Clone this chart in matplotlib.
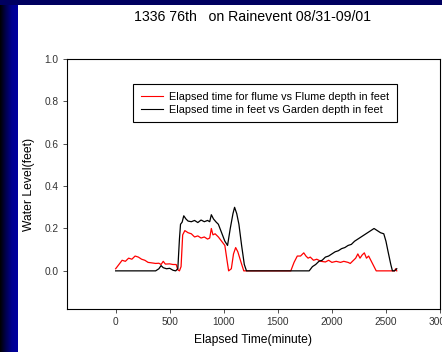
import numpy as np
import matplotlib.pyplot as plt
from matplotlib.colors import LinearSegmentedColormap

plt.rcParams['font.family'] = ['Liberation Sans', 'DejaVu Sans']

# flume depth (red)
flume_t = [0, 30, 60, 90, 120, 150, 180, 210, 240, 270, 300, 330, 370, 400, 420, 440, 460,
           500, 530, 560, 575, 590, 605, 620, 640, 670, 700, 730, 760, 790, 820, 850, 870,
           885, 900, 920, 950, 980, 1010, 1030, 1045, 1070, 1090, 1110, 1130, 1160, 1185,
           1620, 1650, 1680, 1710, 1740, 1760, 1780, 1800, 1830, 1860, 1900, 1940, 1970,
           2000, 2040, 2080, 2110, 2150, 2170, 2200, 2220, 2240, 2260, 2280, 2300, 2320,
           2340, 2360, 2390, 2410, 2580, 2590, 2600]
flume_v = [0.01, 0.03, 0.05, 0.045, 0.06, 0.055, 0.07, 0.065, 0.055, 0.05, 0.04, 0.038, 0.035,
           0.036, 0.03, 0.045, 0.032, 0.033, 0.03, 0.03, 0.005, 0.0, 0.02, 0.17, 0.19, 0.18,
           0.175, 0.16, 0.165, 0.155, 0.16, 0.15, 0.155, 0.2, 0.17, 0.175, 0.16, 0.14, 0.12,
           0.05, 0.0, 0.01, 0.08, 0.11, 0.09, 0.04, 0.0,
           0.0, 0.04, 0.07, 0.07, 0.085, 0.07, 0.06, 0.065, 0.05, 0.055, 0.045, 0.042, 0.05,
           0.04, 0.045, 0.04, 0.045, 0.04, 0.035, 0.05, 0.06, 0.08, 0.06, 0.075, 0.085, 0.06,
           0.07, 0.05, 0.02, 0.0, 0.0, 0.01, 0.0]

# garden depth (black)
garden_t = [0, 370, 400, 420, 440, 470, 500, 530, 555, 575, 590, 600, 615, 630, 650, 670, 700,
            730, 760, 790, 820, 850, 870, 885, 905, 930, 950, 980, 1010, 1035, 1060, 1085,
            1100, 1120, 1140, 1165, 1190, 1210, 1790, 1820, 1850, 1880, 1910, 1940, 1970,
            2000, 2030, 2060, 2090, 2120, 2150, 2180, 2210, 2240, 2270, 2300, 2330, 2360,
            2390, 2420, 2450, 2480, 2500, 2520, 2545, 2560, 2580, 2600]
garden_v = [0.0, 0.0, 0.01, 0.025, 0.015, 0.01, 0.012, 0.003, 0.0, 0.01, 0.15, 0.22, 0.23,
            0.26, 0.245, 0.235, 0.232, 0.238, 0.228, 0.24, 0.232, 0.238, 0.232, 0.265, 0.245,
            0.23, 0.22, 0.18, 0.14, 0.12, 0.2, 0.27, 0.3, 0.27, 0.22, 0.12, 0.03, 0.0, 0.0,
            0.02, 0.03, 0.045, 0.05, 0.065, 0.07, 0.08, 0.09, 0.095, 0.105, 0.11, 0.12, 0.125,
            0.14, 0.15, 0.16, 0.17, 0.18, 0.19, 0.2, 0.19, 0.18, 0.175, 0.14, 0.09, 0.03, 0.0,
            0.0, 0.01]

W, H = 442, 352
fig = plt.figure(figsize=(W / 100, H / 100), dpi=100)
fig.patch.set_facecolor('white')

# dark frame on the left and top
band = fig.add_axes([0, 0, 18 / W, 1])
grad = np.linspace(0, 1, 64).reshape(1, -1)
cmap = LinearSegmentedColormap.from_list('b', ['#000000', '#000050', '#000090', '#0000a0'])
band.imshow(grad, aspect='auto', cmap=cmap, extent=[0, 1, 0, 1])
band.axis('off')
top = fig.add_axes([0, 1 - 5 / H, 1, 5 / H])
top.set_facecolor('#000060')
top.set_xticks([]); top.set_yticks([])
for s in top.spines.values():
    s.set_visible(False)

ax = fig.add_axes([67 / W, 1 - 309 / H, (440 - 67) / W, (309 - 59) / H])
ax.plot(flume_t, flume_v, color='red', lw=0.9,
        label='Elapsed time for flume vs Flume depth in feet')
ax.plot(garden_t, garden_v, color='black', lw=0.9,
        label='Elapsed time in feet vs Garden depth in feet')
ax.set_xlim(-450, 3000)
ax.set_ylim(-0.18, 1.0)
ax.set_xticks([0, 500, 1000, 1500, 2000, 2500, 3000])
ax.set_yticks([0.0, 0.2, 0.4, 0.6, 0.8, 1.0])
ax.set_yticklabels(['0.0', '0.2', '0.4', '0.6', '0.8', '1.0'])
ax.tick_params(labelsize=7.3, length=3, width=0.6, colors='#333333', pad=3)
for s in ax.spines.values():
    s.set_linewidth(0.8)
ax.set_xlabel('Elapsed Time(minute)', fontsize=8.7, labelpad=5)
ax.set_ylabel('Water Level(feet)', fontsize=8.7, labelpad=7)

leg = ax.legend(loc='upper left', bbox_to_anchor=(133 / W, 1 - 84 / H),
                bbox_transform=fig.transFigure, fontsize=7.8, frameon=True,
                fancybox=False, edgecolor='black', framealpha=1,
                handlelength=2.1, handletextpad=0.55, borderpad=0.7,
                labelspacing=0.3, borderaxespad=0)
leg.get_frame().set_linewidth(0.8)
for h in leg.get_lines():
    h.set_linewidth(0.8)

fig.text(253 / W, 1 - 17 / H, '1336 76th   on Rainevent 08/31-09/01',
         ha='center', va='center', fontsize=10.2)

fig.savefig('out.png', dpi=100)
